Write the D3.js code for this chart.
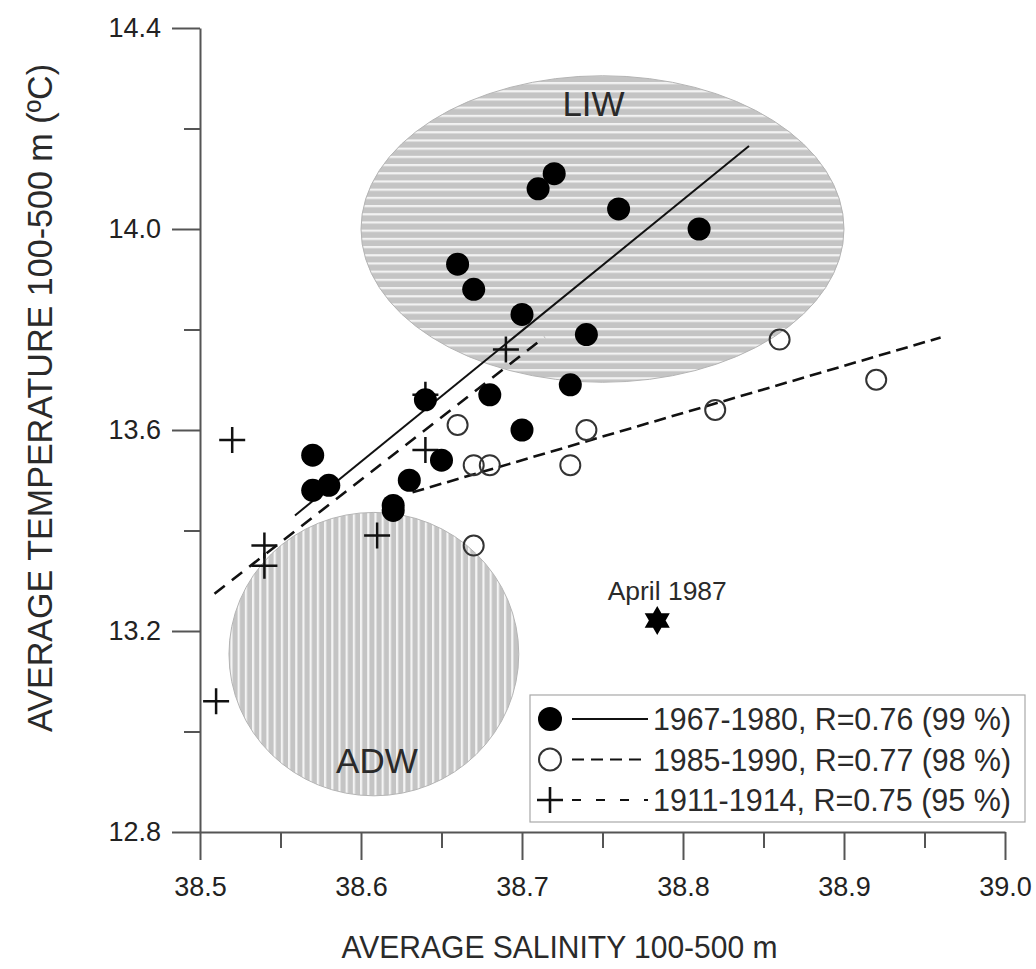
<!DOCTYPE html>
<html>
<head>
<meta charset="utf-8">
<script src="https://cdn.jsdelivr.net/npm/d3@7"></script>
<style>
  body { margin: 0; background: #fff; }
  svg { font-family: "Liberation Sans", Arial, sans-serif; }
</style>
</head>
<body>
<svg id="drawing_region"></svg>
<script>
// 1967-1980 (filled circles)
const sal6780  = [38.57, 38.57, 38.58, 38.62, 38.62, 38.63, 38.64, 38.65, 38.66, 38.67, 38.68, 38.70, 38.70, 38.71, 38.72, 38.73, 38.74, 38.76, 38.81];
const temp6780 = [13.55, 13.48, 13.49, 13.45, 13.44, 13.50, 13.66, 13.54, 13.93, 13.88, 13.67, 13.83, 13.60, 14.08, 14.11, 13.69, 13.79, 14.04, 14.00];

// 1985-1990 (open circles)
const sal8590  = [38.66, 38.67, 38.68, 38.67, 38.73, 38.74, 38.82, 38.86, 38.92];
const temp8590 = [13.61, 13.53, 13.53, 13.37, 13.53, 13.60, 13.64, 13.78, 13.70];

// 1911-1914 (crosses)
const sal1114  = [38.51, 38.52, 38.54, 38.54, 38.61, 38.64, 38.64, 38.69];
const temp1114 = [13.06, 13.58, 13.37, 13.33, 13.39, 13.56, 13.67, 13.76];

// regression lines, end points
const fitSal6780  = [38.559, 38.841];
const fitTemp6780 = [13.430, 14.165];
const fitSal8590  = [38.632, 38.960];
const fitTemp8590 = [13.476, 13.784];
const fitSal1114  = [38.509, 38.714];
const fitTemp1114 = [13.274, 13.785];

// water masses (ellipses in data units)
const massNames = ['LIW', 'ADW'];
const massSal   = [38.750, 38.608];
const massTemp  = [14.000, 13.154];
const massSalR  = [0.150, 0.090];
const massTempR = [0.305, 0.282];

// single event
const eventSal   = [38.784];
const eventTemp  = [13.221];
const eventLabel = ['April 1987'];

const legendLabels = ['1967-1980, R=0.76 (99 %)', '1985-1990, R=0.77 (98 %)', '1911-1914, R=0.75 (95 %)'];

const xMajor = [38.5, 38.6, 38.7, 38.8, 38.9, 39.0];
const xMinor = [38.55, 38.65, 38.75, 38.85, 38.95];
const yMajor = [12.8, 13.2, 13.6, 14.0, 14.4];
const yMinor = [13.0, 13.4, 13.8, 14.2];

const width = 1036, height = 969;
const axisColor = '#555';
const textColor = '#2a2a2a';

const svg = d3.select('#drawing_region')
    .attr('width', width)
    .attr('height', height);

const x = d3.scaleLinear().domain([38.5, 39.0]).range([200, 1005]);
const y = d3.scaleLinear().domain([12.8, 14.4]).range([832, 28]);

// hatching patterns
const defs = svg.append('defs');
const hPat = defs.append('pattern')
    .attr('id', 'hstripe')
    .attr('patternUnits', 'userSpaceOnUse')
    .attr('width', 8).attr('height', 8.2);
hPat.append('rect').attr('width', 8).attr('height', 8.2).attr('fill', '#c4c4c4');
hPat.append('rect').attr('y', 0).attr('width', 8).attr('height', 2.2).attr('fill', '#f2f2f2');

const vPat = defs.append('pattern')
    .attr('id', 'vstripe')
    .attr('patternUnits', 'userSpaceOnUse')
    .attr('width', 7.2).attr('height', 8);
vPat.append('rect').attr('width', 7.2).attr('height', 8).attr('fill', '#c4c4c4');
vPat.append('rect').attr('x', 0).attr('width', 2.2).attr('height', 8).attr('fill', '#f4f4f4');

const masses = massNames.map((n, i) => ({
    name: n, sal: massSal[i], temp: massTemp[i], rs: massSalR[i], rt: massTempR[i]
}));

svg.append('g').selectAll('ellipse')
    .data(masses)
    .enter()
    .append('ellipse')
    .attr('cx', d => x(d.sal))
    .attr('cy', d => y(d.temp))
    .attr('rx', d => x(d.sal + d.rs) - x(d.sal))
    .attr('ry', d => y(d.temp - d.rt) - y(d.temp))
    .attr('fill', (d, i) => i === 0 ? 'url(#hstripe)' : 'url(#vstripe)')
    .attr('stroke', '#b4b4b4')
    .attr('stroke-width', 1);

svg.append('g').selectAll('text')
    .data(masses)
    .enter()
    .append('text')
    .attr('x', (d, i) => x(d.sal) + (i === 0 ? -9 : 3))
    .attr('y', (d, i) => i === 0 ? y(d.temp + d.rt) + 40 : y(d.temp - d.rt) - 23)
    .attr('text-anchor', 'middle')
    .attr('font-size', '35px')
    .attr('fill', textColor)
    .text(d => d.name);

// axes
const xAxis = d3.axisBottom(x).tickValues(xMajor).tickSize(28).tickSizeOuter(0)
    .tickPadding(17).tickFormat(d3.format('.1f'));
const xMinorAxis = d3.axisBottom(x).tickValues(xMinor).tickSize(16).tickFormat('');
const yAxis = d3.axisLeft(y).tickValues(yMajor).tickSize(28).tickSizeOuter(0)
    .tickPadding(11).tickFormat(d3.format('.1f'));
const yMinorAxis = d3.axisLeft(y).tickValues(yMinor).tickSize(16).tickFormat('');

function styleAxis(g) {
    g.select('.domain').attr('stroke', axisColor).attr('stroke-width', 2);
    g.selectAll('.tick line').attr('stroke', axisColor).attr('stroke-width', 2);
    g.selectAll('.tick text').attr('fill', '#222').attr('font-size', '27px')
        .attr('font-family', '"Liberation Sans", Arial, sans-serif');
}

const gx = svg.append('g').attr('transform', `translate(0,${y(12.8)})`).call(xAxis).call(styleAxis);
const gxm = svg.append('g').attr('transform', `translate(0,${y(12.8)})`).call(xMinorAxis).call(styleAxis);
gxm.select('.domain').remove();
const gy = svg.append('g').attr('transform', `translate(${x(38.5)},0)`).call(yAxis).call(styleAxis);
const gym = svg.append('g').attr('transform', `translate(${x(38.5)},0)`).call(yMinorAxis).call(styleAxis);
gym.select('.domain').remove();

// axis titles
svg.append('text')
    .attr('x', (x(38.5) + x(39.0)) / 2 - 43)
    .attr('y', 958)
    .attr('text-anchor', 'middle')
    .attr('font-size', '32px')
    .attr('textLength', 436)
    .attr('lengthAdjust', 'spacingAndGlyphs')
    .attr('fill', textColor)
    .text('AVERAGE SALINITY 100-500 m');

svg.append('text')
    .attr('transform', 'translate(52,398) rotate(-90)')
    .attr('text-anchor', 'middle')
    .attr('font-size', '35px')
    .attr('textLength', 668)
    .attr('lengthAdjust', 'spacingAndGlyphs')
    .attr('fill', textColor)
    .text('AVERAGE TEMPERATURE 100-500 m (ºC)');

// regression lines
const fits = [
    { s: fitSal6780, t: fitTemp6780, dash: null },
    { s: fitSal8590, t: fitTemp8590, dash: '12,6' },
    { s: fitSal1114, t: fitTemp1114, dash: '13,9' }
];
const line = d3.line().x(d => x(d[0])).y(d => y(d[1]));
svg.append('g').selectAll('path')
    .data(fits)
    .enter()
    .append('path')
    .attr('d', d => line(d.s.map((v, i) => [v, d.t[i]])))
    .attr('fill', 'none')
    .attr('stroke', '#111')
    .attr('stroke-width', (d, i) => i === 0 ? 2 : 2.6)
    .attr('stroke-dasharray', d => d.dash);

// symbols
const crossType = {
    draw(ctx, size) {
        const r = Math.sqrt(size);
        ctx.moveTo(-r, 0); ctx.lineTo(r, 0);
        ctx.moveTo(0, -r); ctx.lineTo(0, r);
    }
};
const star6Type = {
    draw(ctx, size) {
        const R = Math.sqrt(size), r = R / Math.sqrt(3);
        for (let k = 0; k < 12; k++) {
            const a = -Math.PI / 2 + k * Math.PI / 6;
            const rr = k % 2 === 0 ? R : r;
            const px = rr * Math.cos(a), py = rr * Math.sin(a);
            if (k === 0) ctx.moveTo(px, py); else ctx.lineTo(px, py);
        }
        ctx.closePath();
    }
};
const crossPath = d3.symbol().type(crossType).size(13 * 13)();
const starPath = d3.symbol().type(star6Type).size(14.5 * 14.5)();

const pts1114 = sal1114.map((s, i) => ({ s: s, t: temp1114[i] }));
const pts8590 = sal8590.map((s, i) => ({ s: s, t: temp8590[i] }));
const pts6780 = sal6780.map((s, i) => ({ s: s, t: temp6780[i] }));

svg.append('g').selectAll('path')
    .data(pts1114)
    .enter()
    .append('path')
    .attr('transform', d => `translate(${x(d.s)},${y(d.t)})`)
    .attr('d', crossPath)
    .attr('fill', 'none')
    .attr('stroke', '#111')
    .attr('stroke-width', 2.5);

svg.append('g').selectAll('circle')
    .data(pts8590)
    .enter()
    .append('circle')
    .attr('cx', d => x(d.s))
    .attr('cy', d => y(d.t))
    .attr('r', 10)
    .attr('fill', '#fff')
    .attr('fill-opacity', 0)
    .attr('stroke', '#333')
    .attr('stroke-width', 2);

svg.append('g').selectAll('circle')
    .data(pts6780)
    .enter()
    .append('circle')
    .attr('cx', d => x(d.s))
    .attr('cy', d => y(d.t))
    .attr('r', 11.5)
    .attr('fill', '#000');

// April 1987 event
const events = eventSal.map((s, i) => ({ s: s, t: eventTemp[i], label: eventLabel[i] }));
const ev = svg.append('g').selectAll('g')
    .data(events)
    .enter()
    .append('g');
ev.append('path')
    .attr('transform', d => `translate(${x(d.s)},${y(d.t)})`)
    .attr('d', starPath)
    .attr('fill', '#000');
ev.append('text')
    .attr('x', d => x(d.s) + 10)
    .attr('y', d => y(d.t) - 20)
    .attr('text-anchor', 'middle')
    .attr('font-size', '26px')
    .attr('textLength', 119)
    .attr('lengthAdjust', 'spacingAndGlyphs')
    .attr('fill', textColor)
    .text(d => d.label);

// legend
const legend = svg.append('g').attr('transform', 'translate(530,695)');
legend.append('rect')
    .attr('width', 495).attr('height', 127)
    .attr('fill', '#fff')
    .attr('stroke', '#a8a8a8')
    .attr('stroke-width', 1.2);

const legendDash = [null, '12,7', '9,15'];
const rows = legend.selectAll('g.row')
    .data(legendLabels)
    .enter()
    .append('g')
    .attr('class', 'row')
    .attr('transform', (d, i) => `translate(0,${24 + i * 40.5})`);

rows.append('line')
    .attr('x1', 42).attr('x2', 118)
    .attr('stroke', '#111')
    .attr('stroke-width', (d, i) => i === 0 ? 2 : 2.2)
    .attr('stroke-dasharray', (d, i) => legendDash[i]);

rows.filter((d, i) => i === 0).append('circle')
    .attr('cx', 20).attr('r', 12).attr('fill', '#000');
rows.filter((d, i) => i === 1).append('circle')
    .attr('cx', 20).attr('r', 11).attr('fill', '#fff').attr('stroke', '#333').attr('stroke-width', 2);
rows.filter((d, i) => i === 2).append('path')
    .attr('transform', 'translate(20,0)')
    .attr('d', crossPath)
    .attr('stroke', '#111').attr('stroke-width', 2.6);

rows.append('text')
    .attr('x', 123)
    .attr('y', 11)
    .attr('font-size', '31px')
    .attr('textLength', 358)
    .attr('lengthAdjust', 'spacingAndGlyphs')
    .attr('fill', textColor)
    .text(d => d);
</script>
</body>
</html>
